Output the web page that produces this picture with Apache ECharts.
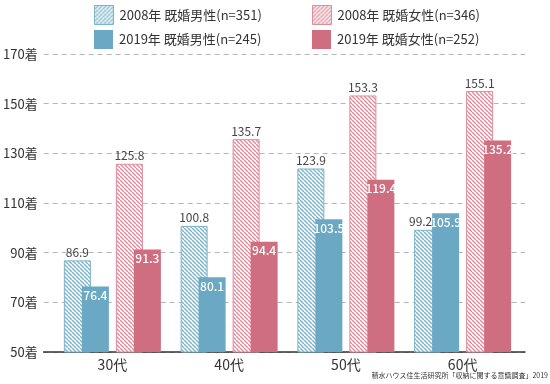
<!DOCTYPE html>
<html>
<head>
<meta charset="utf-8">
<script src="https://cdn.jsdelivr.net/npm/echarts@6/dist/echarts.min.js"></script>
<style>html,body{margin:0;padding:0;background:#fff}#c{width:550px;height:384px}</style>
</head>
<body>
<div id="c"></div>
<script>
const categories = ['30代', '40代', '50代', '60代'];
const male2008 = [86.9, 100.8, 123.9, 99.2];
const male2019 = [76.4, 80.1, 103.5, 105.9];
const female2008 = [125.8, 135.7, 153.3, 155.1];
const female2019 = [91.3, 94.4, 119.4, 135.2];
const seriesNames = ['2008年 既婚男性(n=351)', '2019年 既婚男性(n=245)', '2008年 既婚女性(n=346)', '2019年 既婚女性(n=252)'];
const yMin = 50, yMax = 170, yInterval = 20;
const sourceText = '積水ハウス住生活研究所「収納に関する意識調査」2019';

const FONT = '"Noto Sans CJK JP", "Noto Sans", sans-serif';
const BLUE = '#6aa8c3', PINK = '#cf6e81';
const BLUE_H = '#7db4ca', PINK_H = '#df8d9c';

function hatch(color, dir) {
  const c = document.createElement('canvas');
  c.width = 4; c.height = 4;
  const ctx = c.getContext('2d');
  ctx.fillStyle = '#fff';
  ctx.fillRect(0, 0, 4, 4);
  ctx.strokeStyle = color;
  ctx.lineWidth = 1.4;
  for (let k = -1; k <= 1; k++) {
    ctx.beginPath();
    if (dir === 'back') { ctx.moveTo(k * 4, 0); ctx.lineTo(k * 4 + 4, 4); }
    else { ctx.moveTo(k * 4, 4); ctx.lineTo(k * 4 + 4, 0); }
    ctx.stroke();
  }
  return { image: c, repeat: 'repeat' };
}

const chart = echarts.init(document.getElementById('c'), null, { renderer: 'canvas' });

const BW = 27, GAP = '-33.333%';
const topLabel = { show: true, position: 'top', distance: 2, color: '#444', fontSize: 12, fontFamily: FONT };
const inLabel = { show: true, position: 'insideTop', distance: 3, color: '#fff', fontSize: 12, fontWeight: 500, fontFamily: FONT };

function barSeries(name, data, itemStyle, label) {
  return { name, type: 'bar', xAxisIndex: 1, yAxisIndex: 1, barWidth: BW, barGap: GAP, data, itemStyle, label };
}

const m08data = male2008.map((v, i) => i === 3 ? { value: v, label: { offset: [-7, 0] } } : v);

function legend(name, left, top, icon) {
  return {
    data: [icon ? { name, itemStyle: icon } : name], left, top, padding: 0,
    itemWidth: 19, itemHeight: 19, itemGap: 0, icon: 'rect',
    textStyle: { fontSize: 13, color: '#333', fontFamily: FONT, padding: [0, 0, 0, 1] },
    selectedMode: false
  };
}

chart.setOption({
  animation: false,
  title: { text: sourceText, right: 2, bottom: 5, padding: 0, textStyle: { fontSize: 7, fontWeight: 'normal', color: '#333', fontFamily: FONT } },
  legend: [
    legend(seriesNames[0], 94, 5, { color: hatch(BLUE_H, 'fwd'), borderColor: BLUE_H, borderWidth: 1 }),
    legend(seriesNames[1], 94, 30),
    legend(seriesNames[2], 312, 5, { color: hatch(PINK_H, 'fwd'), borderColor: PINK_H, borderWidth: 1 }),
    legend(seriesNames[3], 312, 30)
  ],
  grid: [
    { left: 43, right: 25, top: 54, bottom: 32 },
    { left: 54, right: 29, top: 54, bottom: 32 }
  ],
  xAxis: [
    { type: 'category', gridIndex: 0, data: categories, axisLine: { lineStyle: { color: '#333', width: 1.5 } }, axisTick: { show: false }, axisLabel: { show: false }, z: 0 },
    { type: 'category', gridIndex: 1, data: categories, axisLine: { show: false }, axisTick: { show: false },
      axisLabel: { color: '#333', fontSize: 14, margin: 6, fontFamily: FONT } }
  ],
  yAxis: [
    { type: 'value', gridIndex: 0, min: yMin, max: yMax, interval: yInterval,
      axisLine: { show: false }, axisTick: { show: false },
      axisLabel: { formatter: '{value}着', color: '#333', fontSize: 13, margin: 6, fontFamily: FONT },
      splitLine: { lineStyle: { color: '#b5b5b5', type: [5, 4], width: 1 } } },
    { type: 'value', gridIndex: 1, min: yMin, max: yMax, interval: yInterval, show: false, splitLine: { show: false } }
  ],
  series: [
    barSeries(seriesNames[0], m08data, { color: hatch(BLUE_H, 'back'), borderColor: BLUE_H, borderWidth: 1 }, topLabel),
    barSeries(seriesNames[1], male2019, { color: BLUE }, inLabel),
    { name: '_gap', type: 'bar', xAxisIndex: 1, yAxisIndex: 1, barWidth: 24, barGap: GAP, data: ['-', '-', '-', '-'], silent: true },
    barSeries(seriesNames[2], female2008, { color: hatch(PINK_H, 'back'), borderColor: PINK_H, borderWidth: 1 }, topLabel),
    barSeries(seriesNames[3], female2019, { color: PINK }, inLabel)
  ]
});
</script>
</body>
</html>
